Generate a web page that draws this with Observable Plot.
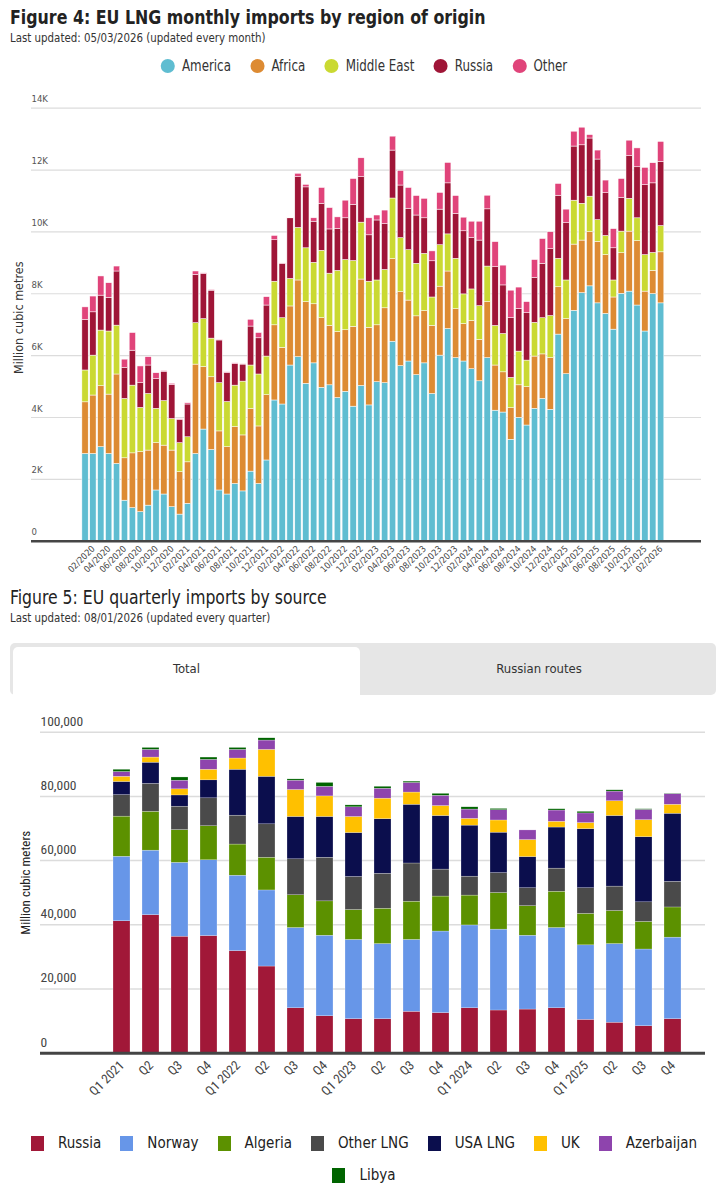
<!DOCTYPE html>
<html><head><meta charset="utf-8">
<script src="https://cdn.jsdelivr.net/npm/d3@7"></script>
<script src="https://cdn.jsdelivr.net/npm/@observablehq/plot@0.6"></script>
<style>
body{margin:0;background:#fff;}
#root{position:relative;width:728px;height:1200px;overflow:hidden;font-family:"DejaVu Sans Condensed","DejaVu Sans",sans-serif;font-stretch:condensed;color:#222;}
.abs{position:absolute;}
.t4{left:10px;top:5px;font-size:20px;font-weight:bold;color:#222;white-space:nowrap;transform:scaleX(0.88);transform-origin:0 0;}
.t5{left:10px;top:585px;font-size:20px;color:#222;white-space:nowrap;transform:scaleX(0.87);transform-origin:0 0;}
.sub{left:10px;font-size:11.4px;color:#333;white-space:nowrap;}
.leg4{left:0;top:57px;width:728px;display:flex;justify-content:center;gap:22px;font-size:15px;color:#333;transform:scaleX(0.88);transform-origin:364px 0;}
.leg4 span{display:flex;align-items:center;gap:8px;}
.leg4 i{display:inline-block;width:16px;height:14px;border-radius:50%;}
.leg5{left:14px;top:1134px;width:700px;display:flex;flex-wrap:wrap;justify-content:center;column-gap:19px;row-gap:14px;font-size:15px;color:#222;}
.leg5 span{display:flex;align-items:center;gap:14px;}
.leg5 i{display:inline-block;width:13px;height:15px;}
.tabs{left:10px;top:643px;width:706px;height:52px;background:#e6e6e6;border-radius:5px;}
.tab{position:absolute;top:4px;height:48px;display:flex;align-items:center;justify-content:center;font-size:13px;color:#333;padding-bottom:6px;box-sizing:border-box;}
svg{position:absolute;left:0;}
</style></head><body><div id="root"></div>
<script>
// ---------- Figure 4 data (million cubic metres) ----------
const months = ["01/2020","02/2020","03/2020","04/2020","05/2020","06/2020","07/2020","08/2020","09/2020","10/2020","11/2020","12/2020",
"01/2021","02/2021","03/2021","04/2021","05/2021","06/2021","07/2021","08/2021","09/2021","10/2021","11/2021","12/2021",
"01/2022","02/2022","03/2022","04/2022","05/2022","06/2022","07/2022","08/2022","09/2022","10/2022","11/2022","12/2022",
"01/2023","02/2023","03/2023","04/2023","05/2023","06/2023","07/2023","08/2023","09/2023","10/2023","11/2023","12/2023",
"01/2024","02/2024","03/2024","04/2024","05/2024","06/2024","07/2024","08/2024","09/2024","10/2024","11/2024","12/2024",
"01/2025","02/2025","03/2025","04/2025","05/2025","06/2025","07/2025","08/2025","09/2025","10/2025","11/2025","12/2025",
"01/2026","02/2026"];
const regions = ["America","Africa","Middle East","Russia","Other"];
const regionColors = ["#5fbdd1","#dd8b33","#cad932","#9f1537","#e0447a"];
const america = [2820,2820,3040,2820,2500,1310,1070,940,1150,1640,1510,1100,
860,1210,2820,3610,2950,1640,1510,1850,1610,2250,1850,2610,
4550,4420,5680,5950,5090,5750,4960,5040,4630,4830,4350,5020,
4390,5140,5110,6450,5660,5810,5370,5750,4760,6000,6860,5920,
5810,5560,5170,5920,4220,4160,3280,3990,3740,4280,4600,4250,
6680,5400,7450,8020,8240,7690,7350,6840,8000,8070,7620,6780,
7990,7690];
const africa = [1670,1890,1970,1920,2890,1370,1770,1940,1780,1530,1580,1830,
1370,1340,2890,2020,2350,1910,1530,1840,1810,2020,1860,2110,
2430,1830,1910,2480,2640,1910,2250,1920,2130,1990,2580,3440,
2510,1840,2420,2670,2390,1970,1900,1690,2200,2230,1860,1580,
1210,1560,1340,1810,1460,1300,1020,1050,1240,1690,1440,1670,
1530,1780,2140,1700,1750,1990,1900,1040,1310,1940,2080,1290,
750,1650];
const middleEast = [1030,1290,1800,2040,1580,1920,2190,1430,1830,1110,1440,1020,
940,810,1340,1550,1250,1560,1460,1340,1740,1410,1680,1250,
1410,960,890,1700,1740,1340,2180,1690,1980,2270,2130,1840,
1490,1450,1240,1960,1750,1630,1700,1850,920,1340,1200,1630,
960,1020,1090,1150,1280,1240,980,1090,860,1090,1170,1360,
920,1250,1420,1190,1150,700,620,550,700,1060,740,1180,
580,850];
const russia = [1640,1400,1130,1090,1750,1000,1130,800,920,960,950,1100,
750,1060,1560,1460,1550,1380,940,700,550,1260,1170,1650,
1340,1760,1960,1640,1970,1330,1520,1430,1360,1350,1810,1470,
1500,1940,1480,1550,1700,1340,1560,1150,1170,1150,1650,1450,
2040,1660,2120,1850,1900,1570,1930,1380,1530,1450,1760,2160,
2040,1850,1750,1890,1880,1960,1380,1040,1090,1380,1650,2260,
2250,2070];
const other = [400,510,620,470,160,270,570,540,270,190,20,40,
20,40,110,20,20,20,20,20,10,220,170,270,
140,10,10,110,80,110,510,690,370,570,840,610,
550,160,440,450,470,670,630,630,320,540,660,580,
440,530,610,440,810,640,890,690,360,580,800,550,
380,440,480,570,110,290,410,620,610,500,610,560,
650,650];
const yTicks4 = [0,2000,4000,6000,8000,10000,12000,14000];

// ---------- Figure 5 data (million cubic meters) ----------
const quarters = ["Q1 2021","Q2 2021","Q3 2021","Q4 2021","Q1 2022","Q2 2022","Q3 2022","Q4 2022","Q1 2023","Q2 2023",
"Q3 2023","Q4 2023","Q1 2024","Q2 2024","Q3 2024","Q4 2024","Q1 2025","Q2 2025","Q3 2025","Q4 2025"];
const sources = ["Russia","Norway","Algeria","Other LNG","USA LNG","UK","Azerbaijan","Libya"];
const sourceColors = ["#a11838","#6796e8","#5c9100","#4a4a4a","#0b0e4d","#ffc000","#8e44ad","#006400"];
const qRussia   = [41100,43000,36300,36500,31800,27000,14000,11500,10600,10600,12900,12500,14000,13300,13600,14000,10400,9500,8400,10600];
const qNorway   = [20100,20100,23000,23600,23500,23700,25000,25100,24700,23400,22400,25400,25800,25200,23000,25000,23200,24500,23900,25400];
const qAlgeria  = [12500,12100,10200,10600,9700,10200,10200,10700,9300,11000,11900,10900,9300,11400,9200,11300,9800,10300,8600,9400];
const qOtherLNG = [6700,8700,7300,8700,9000,10400,11200,13600,10300,10900,11900,8400,5900,6200,5600,7200,8000,7600,6100,8000];
const qUSA      = [4100,6600,3500,5600,14300,14800,13200,12700,13700,17000,18300,16700,15900,12600,9700,12800,18400,22000,20300,21200];
const qUK       = [1600,1600,1900,3300,3500,8400,8400,6400,5000,6400,3800,3100,2100,3800,5300,1800,1900,4600,5300,2800];
const qAzer     = [1500,2400,2700,3100,2700,2900,2900,3000,3000,3100,3000,3200,2900,3200,3000,3500,3000,3000,3200,3300];
const qLibya    = [700,600,1000,700,600,700,400,1200,600,600,400,600,700,400,0,400,500,400,200,100];
const yTicks5 = [0,20000,40000,60000,80000,100000];

// ---------- build tables ----------
const regionSeries = [america, africa, middleEast, russia, other];
const rows4 = [];
months.forEach((m,i)=>regionSeries.forEach((s,k)=>rows4.push({month:m, region:regions[k], value:s[i]})));
const sourceSeries = [qRussia,qNorway,qAlgeria,qOtherLNG,qUSA,qUK,qAzer,qLibya];
const rows5 = [];
quarters.forEach((q,i)=>sourceSeries.forEach((s,k)=>rows5.push({quarter:q, source:sources[k], value:s[i]})));

const root = document.getElementById("root");
function add(html){ root.insertAdjacentHTML("beforeend", html); }

const fig4 = Plot.plot({
  width: 728, height: 500,
  marginTop: 17.7, marginBottom: 49.3, marginLeft: 31, marginRight: 27,
  style: {fontFamily: "'DejaVu Sans Condensed','DejaVu Sans',sans-serif", background: "transparent"},
  x: {type: "band", domain: months, insetLeft: 49.3, insetRight: 35.6, padding: 0.2, label: null},
  y: {domain: [0, 14000], label: null, axis: null},
  color: {domain: regions, range: regionColors},
  marks: [
    Plot.ruleY(yTicks4.slice(1), {stroke: "#dcdcdc", strokeWidth: 1.2}),
    Plot.barY(rows4, {x: "month", y: "value", fill: "region", stroke: "#fff", strokeWidth: 0.5}),
    Plot.ruleY([0], {stroke: "#454545", strokeWidth: 2.5}),
    Plot.text(yTicks4, {y: d => d, text: d => d === 0 ? "0" : (d/1000) + "K", frameAnchor: "left", textAnchor: "start", dy: -9, fontSize: 9.5, fill: "#555"}),
    Plot.axisX({ticks: months.filter((m,i)=>i%2===1), tickSize: 0, tickPadding: 6, tickRotate: -45, fontSize: 9, fill: "#444", label: null}),
    Plot.text(["Million cubic metres"], {frameAnchor: "left", textAnchor: "middle", rotate: -90, dx: -13, dy: -7, fontSize: 12.5, fill: "#333"})
  ]
});
fig4.style.top = "90px";
root.appendChild(fig4);

const fig5 = Plot.plot({
  width: 728, height: 420,
  marginTop: 31.7, marginBottom: 67.3, marginLeft: 40, marginRight: 23,
  style: {fontFamily: "Roboto,'Liberation Sans',sans-serif", background: "transparent"},
  x: {type: "band", domain: quarters, insetLeft: 54.2, insetRight: 4.8, padding: 0.4, label: null},
  y: {domain: [0, 100000], label: null, axis: null},
  color: {domain: sources, range: sourceColors},
  marks: [
    Plot.ruleY(yTicks5.slice(1), {stroke: "#dcdcdc", strokeWidth: 1.5}),
    Plot.barY(rows5, {x: "quarter", y: "value", fill: "source", stroke: "#fff", strokeWidth: 0.4, strokeOpacity: 0.6}),
    Plot.ruleY([0], {stroke: "#444", strokeWidth: 3}),
    Plot.text(yTicks5, {y: d => d, text: d => d3.format(",")(d), frameAnchor: "left", textAnchor: "start", dy: -11, fontSize: 13.5, fill: "#444"}),
    Plot.axisX({tickSize: 0, tickPadding: 10, tickRotate: -45, fontSize: 13, fill: "#444", label: null,
      tickFormat: d => d.startsWith("Q1") ? d : d.slice(0, 2)}),
    Plot.text(["Million cubic meters"], {frameAnchor: "left", textAnchor: "middle", rotate: -90, dx: -15, dy: -10, fontSize: 13, fill: "#222"})
  ]
});
fig5.style.top = "700px";
root.appendChild(fig5);

add(`<div class="abs t4">Figure 4: EU LNG monthly imports by region of origin</div>`);
add(`<div class="abs sub" style="top:31px">Last updated: 05/03/2026 (updated every month)</div>`);
add(`<div class="abs leg4">${regions.map((r,i)=>`<span><i style="background:${regionColors[i]}"></i>${r}</span>`).join("")}</div>`);
add(`<div class="abs t5">Figure 5: EU quarterly imports by source</div>`);
add(`<div class="abs sub" style="top:611px">Last updated: 08/01/2026 (updated every quarter)</div>`);
add(`<div class="abs tabs"><div class="tab" style="left:3px;width:347px;background:#fff;border-radius:5px 5px 0 0;">Total</div><div class="tab" style="left:352px;width:354px;">Russian routes</div></div>`);
add(`<div class="abs leg5">${sources.map((s,i)=>`<span><i style="background:${sourceColors[i]}"></i>${s}</span>`).join("")}</div>`);
</script></body></html>
